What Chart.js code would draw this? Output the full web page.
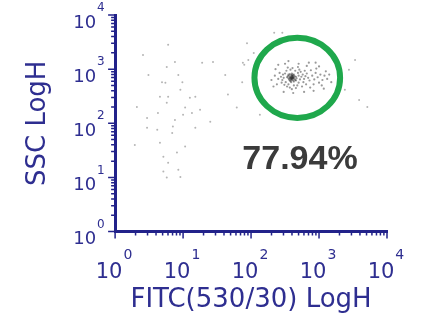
<!DOCTYPE html>
<html>
<head>
<meta charset="utf-8">
<script src="https://cdn.jsdelivr.net/npm/chart.js@4.4.1/dist/chart.umd.min.js"></script>
<style>
  html, body { margin: 0; padding: 0; background: #ffffff; }
  #wrap { position: relative; width: 424px; height: 321px; }
</style>
</head>
<body>
<div id="wrap"><canvas id="c"></canvas></div>
<script>
// ---- Data (axis values are log10 decades: 0..4 => 10^0..10^4) ----
const decades = [0, 1, 2, 3, 4];
const tickBase = ['10', '10', '10', '10', '10'];
const tickExponents = ['0', '1', '2', '3', '4'];
const xTitle = 'FITC(530/30) LogH';
const yTitle = 'SSC LogH';
const gatePercent = '77.94%';

// gated cluster (log10 FITC, log10 SSC)
const gatedFitc = [
  2.60,2.58,2.62,2.59,2.61,2.57,2.63,2.60,2.56,2.64,2.59,2.62,2.55,2.66,2.58,2.61,2.53,2.65,2.57,2.63,
  2.60,2.59,2.61,2.58,2.62,2.56,2.64,2.60,2.54,2.67,2.62,2.58,2.60,2.57,2.63,2.55,2.66,2.59,2.61,2.60,
  2.48,2.50,2.51,2.70,2.72,2.69,2.74,2.52,2.65,2.58,2.46,2.70,2.63,2.55,2.76,2.78,2.68,2.47,2.53,2.73,
  2.80,2.44,2.61,2.49,2.77,2.82,2.66,2.57,2.71,2.42,2.84,2.79,2.45,2.69,2.54,2.86,2.75,2.60,2.40,2.81,
  2.90,2.93,2.95,2.98,3.02,3.05,2.88,3.00,2.92,3.08,3.10,2.96,3.12,2.87,3.04,2.35,2.38,2.36,2.50,2.70,
  2.82,2.62,2.48,2.92,3.15,3.18,2.30,2.85,2.55,3.00,2.78,2.40,3.07,2.33,2.95
];
const gatedSsc = [
  2.84,2.86,2.83,2.81,2.87,2.84,2.85,2.80,2.88,2.82,2.89,2.79,2.83,2.86,2.78,2.90,2.85,2.80,2.91,2.77,
  2.86,2.83,2.82,2.85,2.88,2.81,2.87,2.92,2.87,2.83,2.84,2.82,2.88,2.79,2.90,2.90,2.79,2.76,2.85,2.83,
  2.84,2.92,2.76,2.88,2.81,2.93,2.86,2.97,2.97,2.99,2.80,2.75,2.70,2.72,2.90,2.82,2.70,2.90,2.68,2.95,
  2.87,2.86,3.02,2.71,2.76,2.92,2.65,2.66,2.99,2.93,2.84,2.97,2.75,3.04,3.03,2.79,2.68,2.63,2.82,2.72,
  2.88,2.81,2.93,2.85,2.90,2.80,2.98,2.75,2.72,2.88,2.96,3.01,2.82,2.66,2.70,2.88,2.72,3.00,3.10,3.10,
  3.06,2.56,2.58,2.60,2.90,2.76,2.80,3.12,3.15,3.05,2.58,3.08,2.64,2.68,3.12
];

// ungated events
const otherFitc = [
  0.41,0.78,0.88,1.28,1.44,0.76,0.49,0.93,0.69,0.74,0.99,0.96,0.66,0.78,1.10,1.18,0.32,0.76,1.03,1.25,
  1.66,1.79,0.63,1.00,1.13,0.47,0.88,1.40,0.47,0.62,0.85,1.18,0.84,0.29,0.66,1.03,0.71,0.91,0.78,0.71,
  0.93,0.76,0.96,1.88,1.96,1.94,2.04,1.90,1.87,2.34,2.46,3.59,3.71,3.53,3.44,3.38,1.62,2.13
];
const otherSsc = [
  3.26,3.45,3.13,3.12,3.13,3.04,2.89,2.89,2.76,2.75,2.76,2.62,2.49,2.49,2.47,2.49,2.30,2.38,2.29,2.25,
  2.53,2.29,2.19,2.16,2.19,2.10,2.06,2.03,1.92,1.88,1.94,1.92,1.82,1.60,1.64,1.57,1.38,1.46,1.27,1.11,
  1.14,1.00,1.01,3.12,3.17,3.48,3.30,3.08,2.76,3.67,3.67,2.43,2.30,3.17,2.99,2.62,2.89,2.16
];

// gate ellipse (centre and radii in decades) and label anchor
const gate = { cx: 2.68, cy: 2.84, rx: 0.63, ry: 0.74 };
const pctPos = { x: 2.72, y: 1.33 };

const NAVY = '#22228a';
const NAVY_TXT = '#2e2e90';

const toPts = (xs, ys) => xs.map((v, i) => ({ x: v, y: ys[i] }));

const decor = {
  id: 'decor',
  afterDatasetsDraw(chart) {
    const { ctx, scales: { x, y } } = chart;
    ctx.save();
    const cx = x.getPixelForValue(gate.cx), cy = y.getPixelForValue(gate.cy);
    const rx = x.getPixelForValue(gate.cx + gate.rx) - cx;
    const ry = cy - y.getPixelForValue(gate.cy + gate.ry);
    ctx.beginPath();
    ctx.ellipse(cx, cy, rx, ry, 0, 0, Math.PI * 2);
    ctx.lineWidth = 6;
    ctx.strokeStyle = '#1fa84c';
    ctx.stroke();
    ctx.font = 'bold 34px "Liberation Sans", Arial, sans-serif';
    ctx.fillStyle = '#3b3b3b';
    ctx.textAlign = 'center';
    ctx.textBaseline = 'middle';
    ctx.fillText(gatePercent, x.getPixelForValue(pctPos.x), y.getPixelForValue(pctPos.y));
    ctx.restore();
  },
  afterDraw(chart) {
    const { ctx, chartArea: a, scales: { x, y } } = chart;
    ctx.save();
    ctx.strokeStyle = NAVY;
    ctx.lineWidth = 1.5;
    // tick marks (major + log minor)
    decades.forEach((n, i) => {
      const px = x.getPixelForValue(n), py = y.getPixelForValue(n);
      ctx.beginPath();
      ctx.moveTo(px, a.bottom); ctx.lineTo(px, a.bottom + 7);
      ctx.moveTo(a.left, py); ctx.lineTo(a.left - 7, py);
      ctx.stroke();
      if (i < decades.length - 1) {
        for (let k = 2; k <= 9; k++) {
          const v = n + Math.log10(k);
          const mx = x.getPixelForValue(v), my = y.getPixelForValue(v);
          ctx.beginPath();
          ctx.moveTo(mx, a.bottom); ctx.lineTo(mx, a.bottom + 4);
          ctx.moveTo(a.left, my); ctx.lineTo(a.left - 4, my);
          ctx.stroke();
        }
      }
    });
    // exponents
    ctx.fillStyle = NAVY_TXT;
    ctx.textAlign = 'left';
    ctx.textBaseline = 'middle';
    const xo = chart.options.scales.x.ticks;
    ctx.font = xo.font.size + 'px "DejaVu Sans"';
    const wx = ctx.measureText('10').width;
    ctx.font = '14px "DejaVu Sans"';
    decades.forEach((n, i) => {
      const px = x.getPixelForValue(n) + xo.labelOffset + wx / 2 + 1;
      ctx.fillText(tickExponents[i], px, a.bottom + 24);
    });
    const ytl = chart.options.scales.y.grid.tickLength;
    ctx.font = '12px "DejaVu Sans"';
    decades.forEach((n, i) => {
      const py = y.getPixelForValue(n);
      ctx.fillText(tickExponents[i], a.left - ytl + 1, py - 7);
    });
    ctx.restore();
  }
};

new Chart(document.getElementById('c'), {
  type: 'scatter',
  data: {
    datasets: [
      { label: 'other', data: toPts(otherFitc, otherSsc), pointRadius: 1, pointBorderWidth: 0,
        backgroundColor: 'rgba(120,120,120,0.55)' },
      { label: 'gated', data: toPts(gatedFitc, gatedSsc), pointRadius: 1.1, pointBorderWidth: 0,
        backgroundColor: 'rgba(30,30,30,0.45)' }
    ]
  },
  options: {
    responsive: true,
    maintainAspectRatio: false,
    animation: false,
    events: [],
    layout: { padding: { left: 23, right: 37, top: 15, bottom: 8 } },
    plugins: { legend: { display: false }, tooltip: { enabled: false } },
    scales: {
      x: {
        type: 'linear', min: 0, max: 4,
        grid: { display: false, drawTicks: true, tickLength: 28 },
        border: { display: true, color: NAVY, width: 3 },
        ticks: {
          stepSize: 1, autoSkip: false, maxRotation: 0, padding: 0, labelOffset: -6,
          color: NAVY_TXT, font: { family: 'DejaVu Sans', size: 21 },
          callback: (v, i) => tickBase[i]
        },
        title: { display: true, text: xTitle, color: NAVY_TXT,
          font: { family: 'DejaVu Sans', size: 26 }, padding: { top: 0, bottom: -3 } }
      },
      y: {
        type: 'linear', min: 0, max: 4,
        grid: { display: false, drawTicks: true, tickLength: 19 },
        border: { display: true, color: NAVY, width: 3 },
        ticks: {
          stepSize: 1, autoSkip: false, padding: 0, labelOffset: 8,
          color: NAVY_TXT, font: { family: 'DejaVu Sans', size: 18 },
          callback: (v, i) => tickBase[i]
        },
        title: { display: true, text: yTitle, color: NAVY_TXT,
          font: { family: 'DejaVu Sans', size: 26 }, padding: { top: 0, bottom: 19 } }
      }
    }
  },
  plugins: [decor]
});
</script>
</body>
</html>
